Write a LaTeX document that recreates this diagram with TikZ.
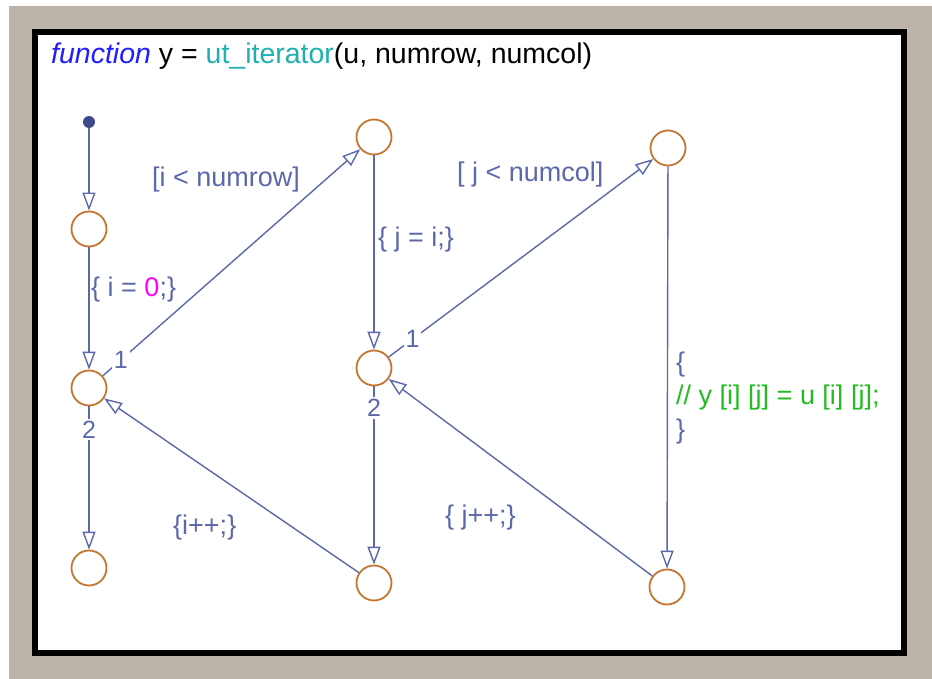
\documentclass[tikz,border=0pt]{standalone}
\usepackage{fontspec}
\setmainfont{Liberation Sans}
\usetikzlibrary{arrows.meta}
\definecolor{edge}{RGB}{92,104,172}
\definecolor{dotc}{RGB}{60,72,140}
\definecolor{stroke}{RGB}{196,118,48}
\definecolor{kw}{RGB}{30,30,255}
\definecolor{fn}{RGB}{32,176,176}
\definecolor{num}{RGB}{255,0,255}
\definecolor{cmt}{RGB}{34,187,34}
\definecolor{bg}{RGB}{188,180,170}
\begin{document}
\begin{tikzpicture}[x=1pt,y=-1pt,
  state/.style={circle,draw=stroke,line width=1.8pt,minimum size=35pt,inner sep=0pt,fill=white},
  trans/.style={draw=edge,line width=1.4pt,-{Triangle[open,length=18pt,width=13pt,line width=1.4pt]}},
  lbl/.style={text=edge,font=\fontsize{27}{33.5}\selectfont,inner sep=0pt,anchor=west},
  order/.style={text=edge,fill=white,font=\fontsize{25}{27}\selectfont,inner sep=2pt}]
% background and frame
\useasboundingbox (0,0) rectangle (932,679);
\fill[white] (0,0) rectangle (932,679);
\fill[bg] (9,6) rectangle (932,679);
\fill[white] (35,32) rectangle (904,653);
\draw[black,line width=6pt] (35,32) rectangle (904,653);
% title
\node[anchor=west,inner sep=0pt,font=\fontsize{28.5}{32}\selectfont] (title) at (51,56)
  {\textcolor{kw}{\textit{function}} y = \textcolor{fn}{ut\_iterator}(u, numrow, numcol)};
% states
\node[circle,fill=dotc,minimum size=12pt,inner sep=0pt] (init) at (89,122) {};
\node[state] (A) at (89,229) {};
\node[state] (B) at (89,388) {};
\node[state] (C) at (89,568) {};
\node[state] (D) at (374,137) {};
\node[state] (E) at (374,368) {};
\node[state] (F) at (374,583) {};
\node[state] (G) at (668,148) {};
\node[state] (H) at (667,587) {};
% transitions
\draw[trans] (init) -- (A);
\draw[trans] (A) -- (B);
\draw[trans] (B) -- node[order,pos=0.07] {1} (D);
\draw[trans] (B) -- node[order,pos=0.16] {2} (C);
\draw[trans] (D) -- (E);
\draw[trans] (E) -- node[order,pos=0.09] {1} (G);
\draw[trans] (E) -- node[order,pos=0.12] {2} (F);
\draw[trans] (F) -- (B);
\draw[trans] (G) -- (H);
\draw[trans] (H) -- (E);
% labels
\node[lbl] (l1) at (91,290) {\{ i = \textcolor{num}{0};\}};
\node[lbl] (l2) at (152,180) {[i < numrow]};
\node[lbl] (l3) at (378,240) {\{ j = i;\}};
\node[lbl] (l4) at (457,175) {[ j < numcol]};
\node[lbl] (l5) at (173,528) {\{i++;\}};
\node[lbl] (l6) at (445,518) {\{ j++;\}};
\node[lbl,align=left] (l7) at (676,398) {\{\\\textcolor{cmt}{// y [i] [j] = u [i] [j];}\\\}};
\end{tikzpicture}
\end{document}
